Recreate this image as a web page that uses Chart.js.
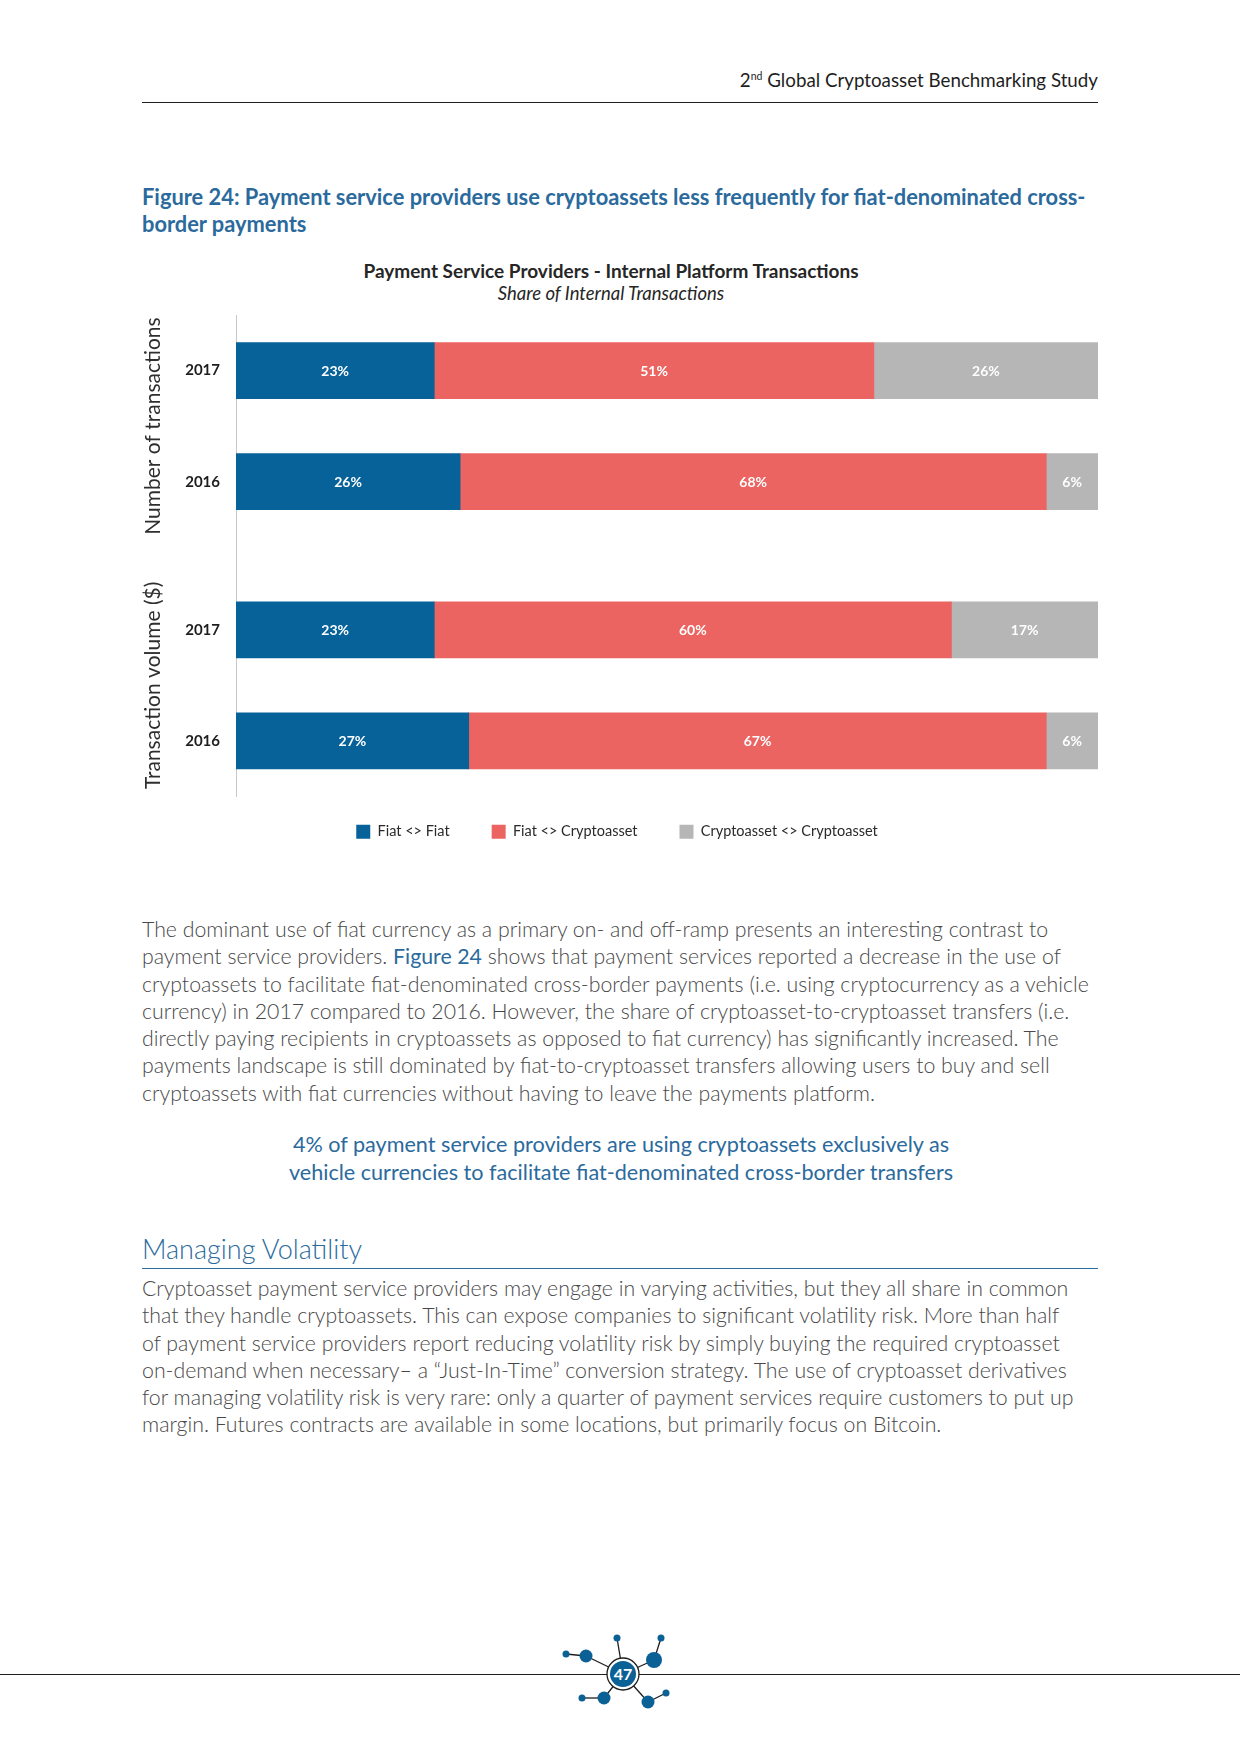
<!DOCTYPE html>
<html>
<head>
<meta charset="utf-8">
<script src="https://cdn.jsdelivr.net/npm/chart.js@4.4.1/dist/chart.umd.min.js"></script>
<style>
  html, body { margin: 0; padding: 0; background: #fff; }
  body { width: 1240px; height: 1754px; position: relative; overflow: hidden; font-family: 'Lato', sans-serif; }
  .abs { position: absolute; white-space: nowrap; }
  #header { right: 142px; top: 67px; font-size: 18.75px; line-height: 26px; color: #1e1e1e; }
  #header sup { font-size: 10.5px; vertical-align: 7px; line-height: 0; }
  .rule { position: absolute; height: 0; }
  #figTitle { left: 142px; top: 183px; font-size: 21.85px; line-height: 27px; font-weight: bold; color: #2b6a9c; }
  #chartTitle { left: 311px; width: 600px; text-align: center; top: 260px; font-size: 19px; line-height: 22px; font-weight: bold; color: #262626; }
  #chartSub { left: 311px; width: 600px; text-align: center; top: 282px; font-size: 18.5px; line-height: 22px; font-style: italic; color: #262626; }
  #chartBox { position: absolute; left: 136px; top: 290px; width: 962px; height: 573px; }
  .body { left: 142px; font-size: 21.3px; line-height: 27.3px; font-weight: 300; color: #484848; }
  .blue { color: #2b6a9c; font-weight: 400; }
  #callout { left: 171px; width: 900px; text-align: center; top: 1130px; font-size: 21.6px; line-height: 28px; color: #2b6a9c; }
  #heading { left: 142px; top: 1232px; font-size: 27px; line-height: 34px; font-weight: 300; color: #2b6a9c; }
</style>
</head>
<body>

<div id="header" class="abs">2<sup>nd</sup> Global Cryptoasset Benchmarking Study</div>
<div class="rule" style="left:142px; top:102px; width:956px; border-top:1px solid #1e1e1e;"></div>

<div id="figTitle" class="abs">Figure 24: Payment service providers use cryptoassets less frequently for fiat-denominated cross-<br>border payments</div>

<div id="chartTitle" class="abs">Payment Service Providers - Internal Platform Transactions</div>
<div id="chartSub" class="abs">Share of Internal Transactions</div>

<div id="chartBox"><canvas id="chart"></canvas></div>

<div class="abs body" style="top:916px;">The dominant use of fiat currency as a primary on- and off-ramp presents an interesting contrast to<br>payment service providers. <span class="blue">Figure 24</span> shows that payment services reported a decrease in the use of<br>cryptoassets to facilitate fiat-denominated cross-border payments (i.e. using cryptocurrency as a vehicle<br>currency) in 2017 compared to 2016. However, the share of cryptoasset-to-cryptoasset transfers (i.e.<br>directly paying recipients in cryptoassets as opposed to fiat currency) has significantly increased. The<br>payments landscape is still dominated by fiat-to-cryptoasset transfers allowing users to buy and sell<br>cryptoassets with fiat currencies without having to leave the payments platform.</div>

<div id="callout" class="abs">4% of payment service providers are using cryptoassets exclusively as<br>vehicle currencies to facilitate fiat-denominated cross-border transfers</div>

<div id="heading" class="abs">Managing Volatility</div>
<div class="rule" style="left:142px; top:1268px; width:956px; border-top:1.5px solid #2b6a9c;"></div>

<div class="abs body" style="top:1275px;">Cryptoasset payment service providers may engage in varying activities, but they all share in common<br>that they handle cryptoassets. This can expose companies to significant volatility risk. More than half<br>of payment service providers report reducing volatility risk by simply buying the required cryptoasset<br>on-demand when necessary– a “Just-In-Time” conversion strategy. The use of cryptoasset derivatives<br>for managing volatility risk is very rare: only a quarter of payment services require customers to put up<br>margin. Futures contracts are available in some locations, but primarily focus on Bitcoin.</div>

<div class="rule" style="left:0; top:1674px; width:1240px; border-top:1px solid #1e1e1e;"></div>
<svg class="abs" style="left:543px; top:1614px;" width="160" height="120" viewBox="543 1614 160 120">
  <g stroke="#1e1e1e" stroke-width="1.3">
    <line x1="566" y1="1654" x2="586" y2="1656"/>
    <line x1="586" y1="1656" x2="623" y2="1674"/>
    <line x1="617" y1="1638" x2="623" y2="1674"/>
    <line x1="661" y1="1638" x2="654" y2="1660"/>
    <line x1="654" y1="1660" x2="623" y2="1674"/>
    <line x1="582" y1="1698" x2="604" y2="1698"/>
    <line x1="604" y1="1698" x2="623" y2="1674"/>
    <line x1="648" y1="1702" x2="623" y2="1674"/>
    <line x1="648" y1="1702" x2="666" y2="1693"/>
  </g>
  <g fill="#0b6096">
    <circle cx="566" cy="1654" r="3.5"/>
    <circle cx="586" cy="1656" r="6.5"/>
    <circle cx="617" cy="1638" r="3.5"/>
    <circle cx="661" cy="1638" r="3.5"/>
    <circle cx="654" cy="1660" r="8"/>
    <circle cx="582" cy="1698" r="3.5"/>
    <circle cx="604" cy="1698" r="6.5"/>
    <circle cx="648" cy="1702" r="6.5"/>
    <circle cx="666" cy="1693" r="3.5"/>
  </g>
  <circle cx="623" cy="1674" r="16" fill="#fff" stroke="#1e1e1e" stroke-width="1.3"/>
  <circle cx="623" cy="1674" r="13" fill="#0b6096"/>
  <text x="623" y="1680" text-anchor="middle" font-family="Lato" font-weight="bold" font-size="16" fill="#fff">47</text>
</svg>

<script>
'use strict';

/* DATA */
const groups = ['Number of transactions', 'Transaction volume ($)'];
const years = ['2017', '2016'];
const seriesNames = ['Fiat <> Fiat', 'Fiat <> Cryptoasset', 'Cryptoasset <> Cryptoasset'];
// rows in order: transactions 2017, transactions 2016, volume 2017, volume 2016
const fiatFiat = [23, 26, 23, 27];
const fiatCrypto = [51, 68, 60, 67];
const cryptoCrypto = [26, 6, 17, 6];
const seriesColors = ['#07629a', '#eb6461', '#b6b6b6'];

/* LAYOUT OF ROWS ON THE CATEGORY AXIS (empty slots make the gaps) */
const rowSlots = [];
let slot = 1;
groups.forEach(() => {
  years.forEach(() => { rowSlots.push(slot); slot += 3; });
  slot += 1;
});
const numSlots = slot - 2;

const labels = new Array(numSlots).fill('');
rowSlots.forEach((s, i) => { labels[s] = years[i % years.length]; });

function spread(values) {
  const out = new Array(numSlots).fill(null);
  rowSlots.forEach((s, i) => { out[s] = values[i]; });
  return out;
}

const datasets = [fiatFiat, fiatCrypto, cryptoCrypto].map((vals, i) => ({
  label: seriesNames[i],
  data: spread(vals),
  backgroundColor: seriesColors[i],
  borderWidth: 0,
  barThickness: 56,
}));

/* PLUGINS */
const barLabels = {
  id: 'barLabels',
  afterDatasetsDraw(chart) {
    const ctx = chart.ctx;
    ctx.save();
    ctx.font = 'bold 14px Lato';
    ctx.fillStyle = '#ffffff';
    ctx.textAlign = 'center';
    ctx.textBaseline = 'middle';
    chart.data.datasets.forEach((ds, di) => {
      chart.getDatasetMeta(di).data.forEach((bar, i) => {
        const v = ds.data[i];
        if (v == null) return;
        const p = bar.getCenterPoint();
        ctx.fillText(v + '%', p.x, p.y + 1);
      });
    });
    ctx.restore();
  }
};

const groupLabels = {
  id: 'groupLabels',
  afterDraw(chart) {
    const ctx = chart.ctx;
    const yScale = chart.scales.y;
    ctx.save();
    ctx.font = '21px Lato';
    ctx.fillStyle = '#2e2e2e';
    ctx.textAlign = 'center';
    ctx.textBaseline = 'middle';
    groups.forEach((g, gi) => {
      const rows = rowSlots.slice(gi * years.length, (gi + 1) * years.length);
      const yMid = (yScale.getPixelForValue(rows[0]) + yScale.getPixelForValue(rows[rows.length - 1])) / 2;
      ctx.save();
      ctx.translate(17, yMid);
      ctx.rotate(-Math.PI / 2);
      ctx.fillText(g, 0, 0);
      ctx.restore();
    });
    ctx.restore();
  }
};

// legend padding also sets the gap above it; pull the legend up closer to the bars
const legendLift = {
  id: 'legendLift',
  afterLayout(chart) {
    chart.legend.top -= 14;
    chart.legend.bottom -= 14;
  }
};

Chart.defaults.font.family = 'Lato';
Chart.defaults.color = '#222';

new Chart(document.getElementById('chart'), {
  type: 'bar',
  data: { labels: labels, datasets: datasets },
  plugins: [barLabels, groupLabels, legendLift],
  options: {
    indexAxis: 'y',
    responsive: true,
    maintainAspectRatio: false,
    animation: false,
    layout: { padding: { top: 4, right: 0, bottom: 0, left: 0 } },
    scales: {
      x: { stacked: true, min: 0, max: 100, display: false },
      y: {
        stacked: true,
        grid: { drawOnChartArea: false, drawTicks: false },
        border: { display: true, color: '#c8c8c8', width: 1 },
        ticks: { autoSkip: false, padding: 16, font: { size: 15, weight: 'bold' }, color: '#1e1e1e' },
        afterFit(scale) { scale.width = 100; }
      }
    },
    plugins: {
      legend: {
        position: 'bottom',
        labels: { boxWidth: 14, boxHeight: 14, padding: 42, font: { size: 14.5 }, color: '#2a2a2a' }
      },
      tooltip: { enabled: false }
    }
  }
});
</script>
</body>
</html>
